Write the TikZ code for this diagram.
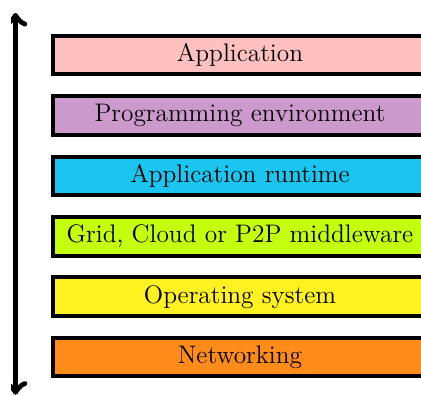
\documentclass[tikz,border=0pt]{standalone}
\usepackage{xcolor}

\definecolor{appcolor}{RGB}{255,192,192}
\definecolor{progcolor}{RGB}{204,153,204}
\definecolor{runcolor}{RGB}{26,198,240}
\definecolor{midcolor}{RGB}{196,255,14}
\definecolor{oscolor}{RGB}{255,242,32}
\definecolor{netcolor}{RGB}{255,140,26}

\tikzset{
	layer/.style = {draw = black,
					line width = 1.9pt,
					shape = rectangle,
					minimum width = 6.22cm,
					minimum height = 0.64cm,
					font = \large}
}

\begin{document}
\begin{tikzpicture}

	\useasboundingbox (0,0) rectangle (7,6.584);
	\clip (0.183,0) rectangle (7,6.584);

	\draw (3.99,5.67) node[layer,
					 fill = appcolor] (app) {Application};

	\draw (3.99,4.665) node[layer,
					 fill = progcolor] (prog) {Programming environment};

	\draw (3.99,3.66) node[layer,
					 fill = runcolor] (runtime) {Application runtime};

	\draw (3.99,2.655) node[layer,
					 fill = midcolor] (middleware) {Grid, Cloud or P2P middleware};

	\draw (3.99,1.65) node[layer,
					 fill = oscolor] (os) {Operating system};

	\draw (3.99,0.645) node[layer,
					 fill = netcolor] (net) {Networking};

	\coordinate (top) at (0.258,6.37);
	\coordinate (bottom) at (0.258,0.02);

	\draw[line width = 2.8pt, <->] (top) -- (bottom);
\end{tikzpicture}
\end{document}
